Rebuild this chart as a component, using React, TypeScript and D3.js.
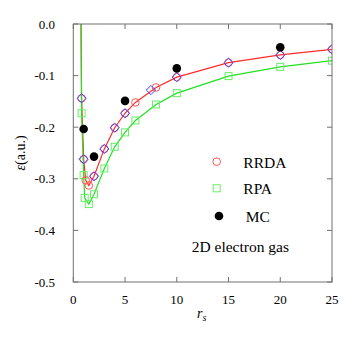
import React, { useEffect, useRef } from 'react'
import * as d3 from 'd3'

// values (energies in a.u.)
const rrdaRs = [0.65, 0.8, 1, 1.2, 1.5, 2, 3, 4, 5, 6, 8, 10, 15, 20, 25]
const rrdaE = [0.3, -0.144, -0.262, -0.303, -0.313, -0.295, -0.242, -0.201, -0.173, -0.152, -0.123, -0.103, -0.075, -0.060, -0.049]
const rrdaMarks = [false, true, true, true, true, true, true, true, true, true, true, true, true, true, true]

const rpaRs = [0.65, 0.8, 1, 1.1, 1.5, 2, 3, 4, 5, 6, 8, 10, 15, 20, 25]
const rpaE = [0.3, -0.173, -0.293, -0.337, -0.349, -0.330, -0.280, -0.238, -0.210, -0.187, -0.156, -0.134, -0.101, -0.083, -0.071]

const diaRs = [0.8, 1, 2, 3, 4, 5, 7.5, 10, 15, 20, 25]
const diaE = [-0.144, -0.262, -0.295, -0.242, -0.201, -0.173, -0.128, -0.103, -0.075, -0.060, -0.049]

const mcRs = [1, 2, 5, 10, 20]
const mcE = [-0.2035, -0.257, -0.149, -0.086, -0.045]

const xTicks = [0, 5, 10, 15, 20, 25]
const yTicks = [0, -0.1, -0.2, -0.3, -0.4, -0.5]

export default function App() {
  const svgRef = useRef<SVGSVGElement>(null)

  useEffect(() => {
    const svg = d3.select(svgRef.current)
    svg.selectAll('*').remove()
    const m = { left: 73.3, right: 332, top: 24, bottom: 282 }
    const x = d3.scaleLinear().domain([0, 25]).range([m.left, m.right])
    const y = d3.scaleLinear().domain([0, -0.5]).range([m.top, m.bottom])
    const font = "'Liberation Serif', 'Times New Roman', serif"
    const axisCol = '#707070'

    svg.append('clipPath').attr('id', 'plotclip').append('rect')
      .attr('x', m.left).attr('y', m.top).attr('width', m.right - m.left).attr('height', m.bottom - m.top)

    // ticks, inward on all sides
    const g = svg.append('g').style('font-family', font).style('font-size', '13px')
    xTicks.forEach(t => {
      g.append('line').attr('x1', x(t)).attr('x2', x(t)).attr('y1', m.bottom).attr('y2', m.bottom - 5).attr('stroke', axisCol)
      g.append('line').attr('x1', x(t)).attr('x2', x(t)).attr('y1', m.top).attr('y2', m.top + 5).attr('stroke', axisCol)
      g.append('text').attr('x', x(t)).attr('y', 304).attr('text-anchor', 'middle').text(String(t))
    })
    yTicks.forEach(t => {
      g.append('line').attr('x1', m.left).attr('x2', m.left + 5).attr('y1', y(t)).attr('y2', y(t)).attr('stroke', axisCol)
      g.append('line').attr('x1', m.right).attr('x2', m.right - 5).attr('y1', y(t)).attr('y2', y(t)).attr('stroke', axisCol)
      g.append('text').attr('x', 55).attr('y', y(t)).attr('dy', '0.35em').attr('text-anchor', 'end')
        .text(t === 0 ? '0.0' : '-' + Math.abs(t).toFixed(1))
    })

    const plot = svg.append('g').attr('clip-path', 'url(#plotclip)')
    const line = d3.line<number[]>().x(p => x(p[0])).y(p => y(p[1]))

    plot.append('path').datum(rrdaRs.map((r, i) => [r, rrdaE[i]]))
      .attr('d', line).attr('fill', 'none').attr('stroke', '#ff2a2a').attr('stroke-width', 1.2)
    plot.append('path').datum(rpaRs.map((r, i) => [r, rpaE[i]]))
      .attr('d', line).attr('fill', 'none').attr('stroke', '#22e022').attr('stroke-width', 1.2)

    rpaRs.forEach((r, i) => {
      if (rpaE[i] > 0) return
      plot.append('rect').attr('x', x(r) - 3.5).attr('y', y(rpaE[i]) - 3.5).attr('width', 7).attr('height', 7)
        .attr('fill', 'none').attr('stroke', '#66ee66').attr('stroke-width', 1)
    })
    rrdaRs.forEach((r, i) => {
      if (!rrdaMarks[i]) return
      plot.append('circle').attr('cx', x(r)).attr('cy', y(rrdaE[i])).attr('r', 3.8)
        .attr('fill', 'none').attr('stroke', '#ff5555').attr('stroke-width', 1)
    })
    diaRs.forEach((r, i) => {
      const cx = x(r), cy = y(diaE[i]), s = 4.6
      plot.append('path').attr('d', `M${cx},${cy - s}L${cx + s},${cy}L${cx},${cy + s}L${cx - s},${cy}Z`)
        .attr('fill', 'none').attr('stroke', '#4040ff').attr('stroke-width', 1)
    })
    mcRs.forEach((r, i) => {
      plot.append('circle').attr('cx', x(r)).attr('cy', y(mcE[i])).attr('r', 4.3).attr('fill', '#000')
    })

    // frame
    svg.append('rect').attr('x', m.left).attr('y', m.top).attr('width', m.right - m.left).attr('height', m.bottom - m.top)
      .attr('fill', 'none').attr('stroke', axisCol).attr('stroke-width', 1)

    // legend
    const lg = svg.append('g').style('font-family', font).style('font-size', '15.5px')
    lg.append('circle').attr('cx', 216.7).attr('cy', 161.7).attr('r', 3.8).attr('fill', 'none').attr('stroke', '#ff5555')
    lg.append('text').attr('x', 243.3).attr('y', 167.5).text('RRDA')
    lg.append('rect').attr('x', 213.2).attr('y', 184.8).attr('width', 7).attr('height', 7).attr('fill', 'none').attr('stroke', '#66ee66')
    lg.append('text').attr('x', 243.3).attr('y', 194).text('RPA')
    lg.append('circle').attr('cx', 219).attr('cy', 216).attr('r', 4.3).attr('fill', '#000')
    lg.append('text').attr('x', 245.7).attr('y', 222).text('MC')
    lg.append('text').attr('x', 191.7).attr('y', 251.5).text('2D electron gas')

    // axis titles
    const xl = svg.append('text').attr('x', 197).attr('y', 318).style('font-family', font).style('font-size', '14px')
    xl.append('tspan').attr('font-style', 'italic').text('r')
    xl.append('tspan').attr('font-style', 'italic').attr('font-size', 10).attr('dy', 3).text('s')

    const yl = svg.append('text').attr('transform', 'translate(25,153) rotate(-90)').attr('text-anchor', 'middle')
      .style('font-family', font).style('font-size', '14px')
    yl.append('tspan').attr('font-style', 'italic').text('ε')
    yl.append('tspan').text('(a.u.)')
  }, [])

  return (
    <svg ref={svgRef} width={354} height={347}
      style={{ position: 'fixed', left: 0, top: 0, background: '#fff' }} />
  )
}
